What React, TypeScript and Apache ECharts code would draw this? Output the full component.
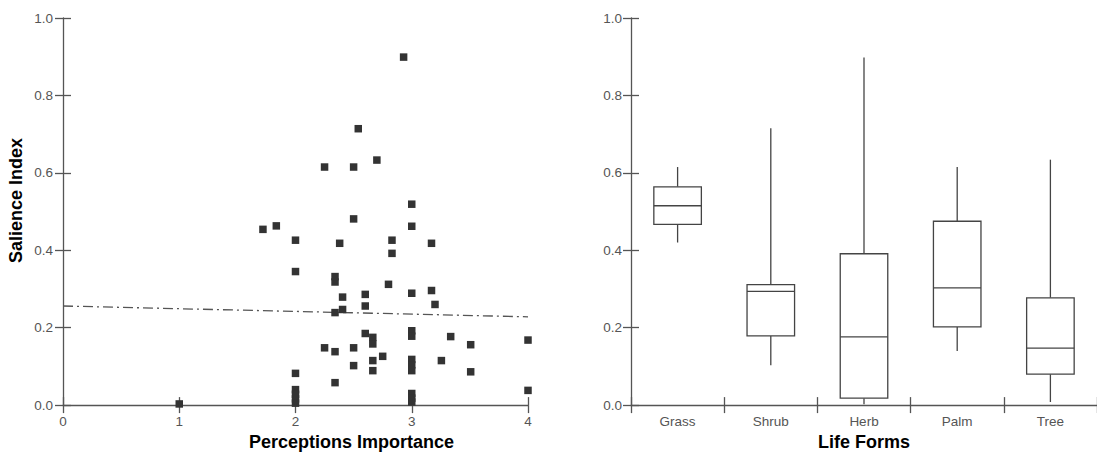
import React, { useEffect, useRef } from "react";
import * as echarts from "echarts";

// Scatter: perceptions importance vs salience index
const scatterX = [
  1.0, 1.72, 1.835, 2.0, 2.0, 2.0, 2.0, 2.0, 2.0, 2.0,
  2.25, 2.25, 2.34, 2.34, 2.34, 2.34, 2.34, 2.38, 2.405, 2.405,
  2.5, 2.5, 2.5, 2.5, 2.54, 2.6, 2.6, 2.6, 2.665, 2.665,
  2.665, 2.665, 2.7, 2.75, 2.8, 2.83, 2.83, 2.93, 3.0, 3.0,
  3.0, 3.0, 3.0, 3.0, 3.0, 3.0, 3.0, 3.0, 3.0, 3.17,
  3.17, 3.2, 3.255, 3.335, 3.507, 3.507, 4.0, 4.0,
];
const scatterY = [
  0.003, 0.454, 0.463, 0.426, 0.345, 0.082, 0.04, 0.028, 0.016, 0.005,
  0.615, 0.148, 0.332, 0.318, 0.239, 0.138, 0.058, 0.418, 0.279, 0.247,
  0.615, 0.481, 0.148, 0.102, 0.714, 0.286, 0.256, 0.185, 0.175, 0.158,
  0.115, 0.089, 0.633, 0.126, 0.312, 0.426, 0.392, 0.899, 0.519, 0.462,
  0.289, 0.192, 0.178, 0.118, 0.104, 0.089, 0.03, 0.018, 0.008, 0.418,
  0.296, 0.26, 0.115, 0.177, 0.156, 0.086, 0.168, 0.038,
];
// Trend line end points
const trendX = [0, 4];
const trendY = [0.256, 0.228];

// Box plot: life forms
const lifeForms = ["Grass", "Shrub", "Herb", "Palm", "Tree"];
const boxMin = [0.42, 0.103, 0.002, 0.14, 0.008];
const boxQ1 = [0.467, 0.179, 0.018, 0.202, 0.08];
const boxMedian = [0.515, 0.294, 0.176, 0.303, 0.147];
const boxQ3 = [0.564, 0.311, 0.391, 0.475, 0.277];
const boxMax = [0.615, 0.715, 0.898, 0.615, 0.634];

const yTicks = [0, 0.2, 0.4, 0.6, 0.8, 1.0];

const AXIS = "#555";
const LABEL = "#555";
const FONT = 'Arial, "Liberation Sans", sans-serif';

export default function App() {
  const ref = useRef<HTMLDivElement>(null);
  useEffect(() => {
    if (!ref.current) return;
    const chart = echarts.init(ref.current, undefined, { renderer: "svg" });
    const lineStyle = { color: AXIS, width: 1.3 };
    const valueX = (extra: any) => ({
      gridIndex: 0,
      type: "value",
      min: 0,
      max: 4,
      interval: 1,
      position: "bottom",
      splitLine: { show: false },
      ...extra,
    });
    const valueY = (grid: number, extra: any) => ({
      gridIndex: grid,
      type: "value",
      min: yTicks[0],
      max: yTicks[yTicks.length - 1],
      interval: 0.2,
      position: "left",
      splitLine: { show: false },
      ...extra,
    });
    const mainYExtra = (margin: number) => ({
      axisLine: { show: true, onZero: false, lineStyle },
      axisTick: { show: true, length: 8, lineStyle },
      axisLabel: {
        margin,
        color: LABEL,
        fontSize: 13.5,
        fontFamily: FONT,
        formatter: (v: number) => v.toFixed(1),
      },
    });
    const innerExtra = {
      axisLine: { show: false, onZero: false },
      axisTick: { show: true, inside: true, length: 8, lineStyle },
      axisLabel: { show: false },
    };
    const nameStyle = (pad: number[]) => ({
      fontWeight: "bold",
      fontSize: 18,
      color: "#000",
      fontFamily: FONT,
      padding: pad,
    });

    const boxData = lifeForms.map((_, i) => [
      i,
      boxMin[i],
      boxQ1[i],
      boxMedian[i],
      boxQ3[i],
      boxMax[i],
    ]);

    const option: any = {
      animation: false,
      textStyle: { fontFamily: FONT },
      grid: [
        { left: 63, top: 18, width: 465, height: 390 },
        { left: 631, top: 18, width: 466, height: 390 },
      ],
      xAxis: [
        valueX({
          axisLine: { show: true, onZero: false, lineStyle },
          axisTick: { show: true, length: 8, lineStyle },
          axisLabel: { margin: 9, color: LABEL, fontSize: 13.5, fontFamily: FONT },
          name: "Perceptions Importance",
          nameLocation: "middle",
          nameGap: 24,
          nameTextStyle: nameStyle([0, 0, 0, 112]),
        }),
        valueX(innerExtra),
        {
          gridIndex: 1,
          type: "category",
          data: lifeForms,
          boundaryGap: true,
          position: "bottom",
          axisLine: { show: true, onZero: false, lineStyle },
          axisTick: { show: true, length: 8, lineStyle },
          axisLabel: { margin: 9, color: LABEL, fontSize: 13.5, fontFamily: FONT },
          splitLine: { show: false },
          name: "Life Forms",
          nameLocation: "middle",
          nameGap: 24,
          nameTextStyle: nameStyle([0, 0, 0, 0]),
        },
        {
          gridIndex: 1,
          type: "category",
          data: lifeForms,
          boundaryGap: true,
          position: "bottom",
          splitLine: { show: false },
          ...innerExtra,
        },
      ],
      yAxis: [
        valueY(0, {
          ...mainYExtra(10),
          name: "Salience Index",
          nameLocation: "middle",
          nameGap: 38,
          nameTextStyle: nameStyle([0, 0, 0, 22]),
        }),
        valueY(0, innerExtra),
        valueY(1, mainYExtra(9)),
        valueY(1, innerExtra),
      ],
      series: [
        {
          type: "scatter",
          xAxisIndex: 0,
          yAxisIndex: 0,
          symbol: "rect",
          symbolSize: 7.5,
          itemStyle: { color: "#333", opacity: 1 },
          data: scatterX.map((x, i) => [x, scatterY[i]]),
          z: 3,
        },
        {
          type: "line",
          xAxisIndex: 0,
          yAxisIndex: 0,
          symbol: "none",
          lineStyle: { color: "#555", width: 1.3, type: [10, 4, 2, 4] },
          data: trendX.map((x, i) => [x, trendY[i]]),
          z: 2,
        },
        {
          type: "custom",
          xAxisIndex: 2,
          yAxisIndex: 2,
          encode: { x: 0, y: [1, 2, 3, 4, 5] },
          data: boxData,
          renderItem: (params: any, api: any) => {
            const i = api.value(0);
            const band = api.size([1, 0])[0];
            const w = band * 0.51;
            const pMin = api.coord([i, api.value(1)]);
            const pQ1 = api.coord([i, api.value(2)]);
            const pMed = api.coord([i, api.value(3)]);
            const pQ3 = api.coord([i, api.value(4)]);
            const pMax = api.coord([i, api.value(5)]);
            const cx = pMin[0];
            const st = { stroke: "#444", lineWidth: 1.3, fill: null };
            return {
              type: "group",
              children: [
                { type: "line", shape: { x1: cx, y1: pMax[1], x2: cx, y2: pQ3[1] }, style: st },
                { type: "line", shape: { x1: cx, y1: pQ1[1], x2: cx, y2: pMin[1] }, style: st },
                {
                  type: "rect",
                  shape: { x: cx - w / 2, y: pQ3[1], width: w, height: pQ1[1] - pQ3[1] },
                  style: { stroke: "#444", lineWidth: 1.3, fill: "#fff" },
                },
                {
                  type: "line",
                  shape: { x1: cx - w / 2, y1: pMed[1], x2: cx + w / 2, y2: pMed[1] },
                  style: st,
                },
              ],
            };
          },
        },
      ],
    };
    chart.setOption(option);
    return () => chart.dispose();
  }, []);
  return (
    <div
      ref={ref}
      style={{ position: "fixed", left: 0, top: 0, width: 1097, height: 456, background: "#fff" }}
    />
  );
}
